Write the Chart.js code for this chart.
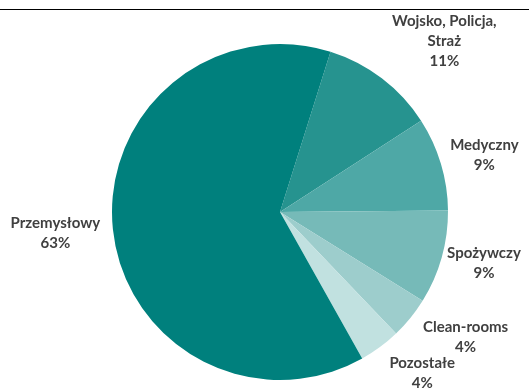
<!DOCTYPE html>
<html lang="pl">
<head>
    <meta charset="UTF-8">
    <title>Struktura rynku</title>
    <script src="https://cdn.jsdelivr.net/npm/chart.js"></script>
    <style>
        html, body {
            margin: 0;
            padding: 0;
            background: #ffffff;
        }
        .wrap {
            position: relative;
            width: 529px;
            height: 389px;
        }
        .rule {
            position: absolute;
            left: 0;
            top: 9px;
            width: 529px;
            height: 1px;
            background: #000000;
        }
    </style>
</head>
<body>

    <div class="wrap">
        <canvas id="pie-chart" width="529" height="389"></canvas>
        <div class="rule"></div>
    </div>

    <script>
        const sectors = [["Wojsko, Policja,", "Straż"], "Medyczny", "Spożywczy", "Clean-rooms", "Pozostałe", "Przemysłowy"];
        const shares = [11, 9, 9, 4, 4, 63];
        const sliceColors = ["#26938f", "#4ea8a6", "#76bab8", "#9dcdcc", "#c1e1e0", "#00807d"];

        // small hand nudges for the outside labels (px)
        const labelNudge = [[26, -7], [3, -1], [-1, -2], [16, 2], [18, 4], [-5, 1]];

        const outsideLabels = {
            id: 'outsideLabels',
            afterDatasetsDraw(chart) {
                const ctx = chart.ctx;
                const meta = chart.getDatasetMeta(0);
                ctx.save();
                ctx.font = "bold 15px Lato, 'Open Sans', sans-serif";
                ctx.fillStyle = "#404040";
                ctx.textAlign = "center";
                ctx.textBaseline = "middle";
                const lineH = 20;
                meta.data.forEach((arc, i) => {
                    const mid = (arc.startAngle + arc.endAngle) / 2;
                    const dx = Math.cos(mid), dy = Math.sin(mid);
                    const name = sectors[i];
                    const lines = (Array.isArray(name) ? name : [name]).concat([shares[i] + "%"]);
                    const w = Math.max(...lines.map(l => ctx.measureText(l).width));
                    const h = lines.length * lineH;
                    const px = arc.x + (arc.outerRadius + 8) * dx;
                    const py = arc.y + (arc.outerRadius + 8) * dy;
                    const cx = px + dx * w / 2 + labelNudge[i][0];
                    const cy = py + dy * h / 2 + labelNudge[i][1];
                    lines.forEach((l, k) => {
                        ctx.fillText(l, cx, cy - h / 2 + lineH / 2 + k * lineH);
                    });
                });
                ctx.restore();
            }
        };

        new Chart(document.getElementById('pie-chart'), {
            type: 'pie',
            data: {
                labels: sectors,
                datasets: [{
                    data: shares,
                    backgroundColor: sliceColors,
                    borderWidth: 0
                }]
            },
            options: {
                responsive: false,
                animation: false,
                rotation: 17.5,
                layout: {
                    padding: { left: 112, right: 81, top: 44, bottom: 9 }
                },
                plugins: {
                    legend: { display: false },
                    tooltip: { enabled: false }
                }
            },
            plugins: [outsideLabels]
        });
    </script>

</body>
</html>
